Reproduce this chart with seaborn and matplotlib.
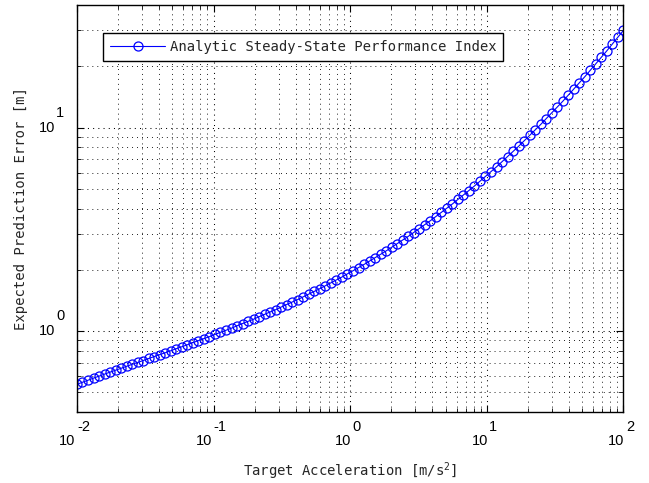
import numpy as np
import pandas as pd
import seaborn as sns
import matplotlib.pyplot as plt
from matplotlib.transforms import offset_copy

# target acceleration [m/s^2] (100 log-spaced samples)
accel = [
  0.0100, 0.01097, 0.01204, 0.01322, 0.01451, 0.01592, 0.01747, 0.01918, 0.02105, 0.02310,
  0.02535, 0.02783, 0.03054, 0.03352, 0.03678, 0.04037, 0.04431, 0.04863, 0.05337, 0.05857,
  0.06428, 0.07055, 0.07743, 0.08497, 0.09326, 0.1024, 0.1123, 0.1233, 0.1353, 0.1485,
  0.1630, 0.1789, 0.1963, 0.2154, 0.2364, 0.2595, 0.2848, 0.3126, 0.3430, 0.3765,
  0.4132, 0.4535, 0.4977, 0.5462, 0.5995, 0.6579, 0.7221, 0.7925, 0.8698, 0.9545,
  1.048, 1.150, 1.262, 1.385, 1.520, 1.668, 1.831, 2.009, 2.205, 2.420,
  2.656, 2.915, 3.199, 3.511, 3.854, 4.229, 4.642, 5.094, 5.591, 6.136,
  6.734, 7.391, 8.111, 8.902, 9.770, 10.72, 11.77, 12.92, 14.17, 15.56,
  17.07, 18.74, 20.57, 22.57, 24.77, 27.19, 29.84, 32.75, 35.94, 39.44,
  43.29, 47.51, 52.14, 57.22, 62.80, 68.93, 75.65, 83.02, 91.12, 100.0,
]

# expected prediction error [m]
pred_error = [
  0.547, 0.560, 0.573, 0.587, 0.600, 0.614, 0.628, 0.642, 0.656, 0.671,
  0.686, 0.701, 0.716, 0.733, 0.749, 0.766, 0.782, 0.800, 0.819, 0.837,
  0.856, 0.877, 0.897, 0.918, 0.938, 0.962, 0.986, 1.009, 1.033, 1.061,
  1.088, 1.116, 1.143, 1.176, 1.208, 1.241, 1.273, 1.312, 1.350, 1.389,
  1.428, 1.473, 1.519, 1.566, 1.615, 1.669, 1.725, 1.783, 1.843, 1.910,
  1.978, 2.050, 2.124, 2.207, 2.293, 2.382, 2.475, 2.579, 2.687, 2.800,
  2.917, 3.049, 3.187, 3.332, 3.482, 3.651, 3.829, 4.015, 4.210, 4.430,
  4.661, 4.904, 5.160, 5.448, 5.752, 6.073, 6.413, 6.796, 7.202, 7.632,
  8.088, 8.603, 9.151, 9.734, 10.35, 11.06, 11.81, 12.61, 13.46, 14.43,
  15.47, 16.59, 17.78, 19.14, 20.60, 22.17, 23.86, 25.77, 27.83, 30.06,
]

x_ticks = [0.01, 0.1, 1, 10, 100]
x_exps = ['-2', '-1', '0', '1', '2']
y_ticks = [1, 10]
y_exps = ['0', '1']

series_label = 'Analytic Steady-State Performance Index'

df = pd.DataFrame({'accel': accel, 'err': pred_error})

sns.set_style('ticks')
mono = 'DejaVu Sans Mono'
plt.rcParams['font.family'] = [mono, 'DejaVu Sans']
plt.rcParams['mathtext.fontset'] = 'custom'
plt.rcParams['mathtext.rm'] = mono
plt.rcParams['mathtext.default'] = 'regular'

fig = plt.figure(figsize=(6.49, 4.83), dpi=100)
ax = fig.add_axes([0.1186, 0.1470, 0.8421, 0.8426])

sns.lineplot(data=df, x='accel', y='err', ax=ax, sort=False, errorbar=None,
             color='blue', linewidth=0.8, marker='o', markersize=6.5,
             markerfacecolor='none', markeredgecolor='blue', markeredgewidth=0.9,
             label=series_label)

ax.set_xscale('log')
ax.set_yscale('log')
ax.set_xlim(0.01, 100)
ax.set_ylim(0.4, 40)

# matlab style dotted grid
ax.grid(True, which='major', linestyle=(0, (1, 4)), color='black', linewidth=0.75)
ax.grid(True, which='minor', linestyle=(0, (1, 4.5)), color='black', linewidth=0.65)

ax.tick_params(which='both', direction='in', top=True, right=True,
               labelbottom=False, labelleft=False, color='black')
ax.tick_params(which='major', length=5, width=0.8)
ax.tick_params(which='minor', length=3, width=0.6)
for s in ax.spines.values():
    s.set_color('black')
    s.set_linewidth(1.0)

# tick labels drawn as "10" with a raised exponent
tick_kw = dict(fontfamily='Liberation Sans', fontsize=10.5, color='black')
xt = ax.get_xaxis_transform()
for v, e in zip(x_ticks, x_exps):
    dx = -1.5 if e.startswith('-') else 1
    ax.text(v, 0, '10', transform=offset_copy(xt, fig=fig, x=dx, y=-29, units='dots'),
            ha='right', va='center', **tick_kw)
    ax.text(v, 0, e, transform=offset_copy(xt, fig=fig, x=dx + 1.5, y=-15, units='dots'),
            ha='left', va='center', **tick_kw)

yt = ax.get_yaxis_transform()
for v, e in zip(y_ticks, y_exps):
    ax.text(0, v, '10', transform=offset_copy(yt, fig=fig, x=-22, y=0, units='dots'),
            ha='right', va='center', **tick_kw)
    ax.text(0, v, e, transform=offset_copy(yt, fig=fig, x=-21, y=15, units='dots'),
            ha='left', va='center', **tick_kw)

ax.set_xlabel('Target Acceleration [m/s$^2$]', fontsize=10, va='top')
ax.set_ylabel('Expected Prediction Error [m]', fontsize=10)
ax.xaxis.set_label_coords(0.5, -0.118)
ax.yaxis.set_label_coords(-0.090, 0.5)

leg = ax.legend(loc='upper left', bbox_to_anchor=(0.0476, 0.931), borderaxespad=0,
                frameon=True, fancybox=False, edgecolor='black', framealpha=1,
                prop={'family': mono, 'size': 10}, handlelength=4.0,
                handletextpad=0.3, borderpad=0.5)
leg.get_frame().set_linewidth(1.0)

fig.savefig('out.png', dpi=100)
